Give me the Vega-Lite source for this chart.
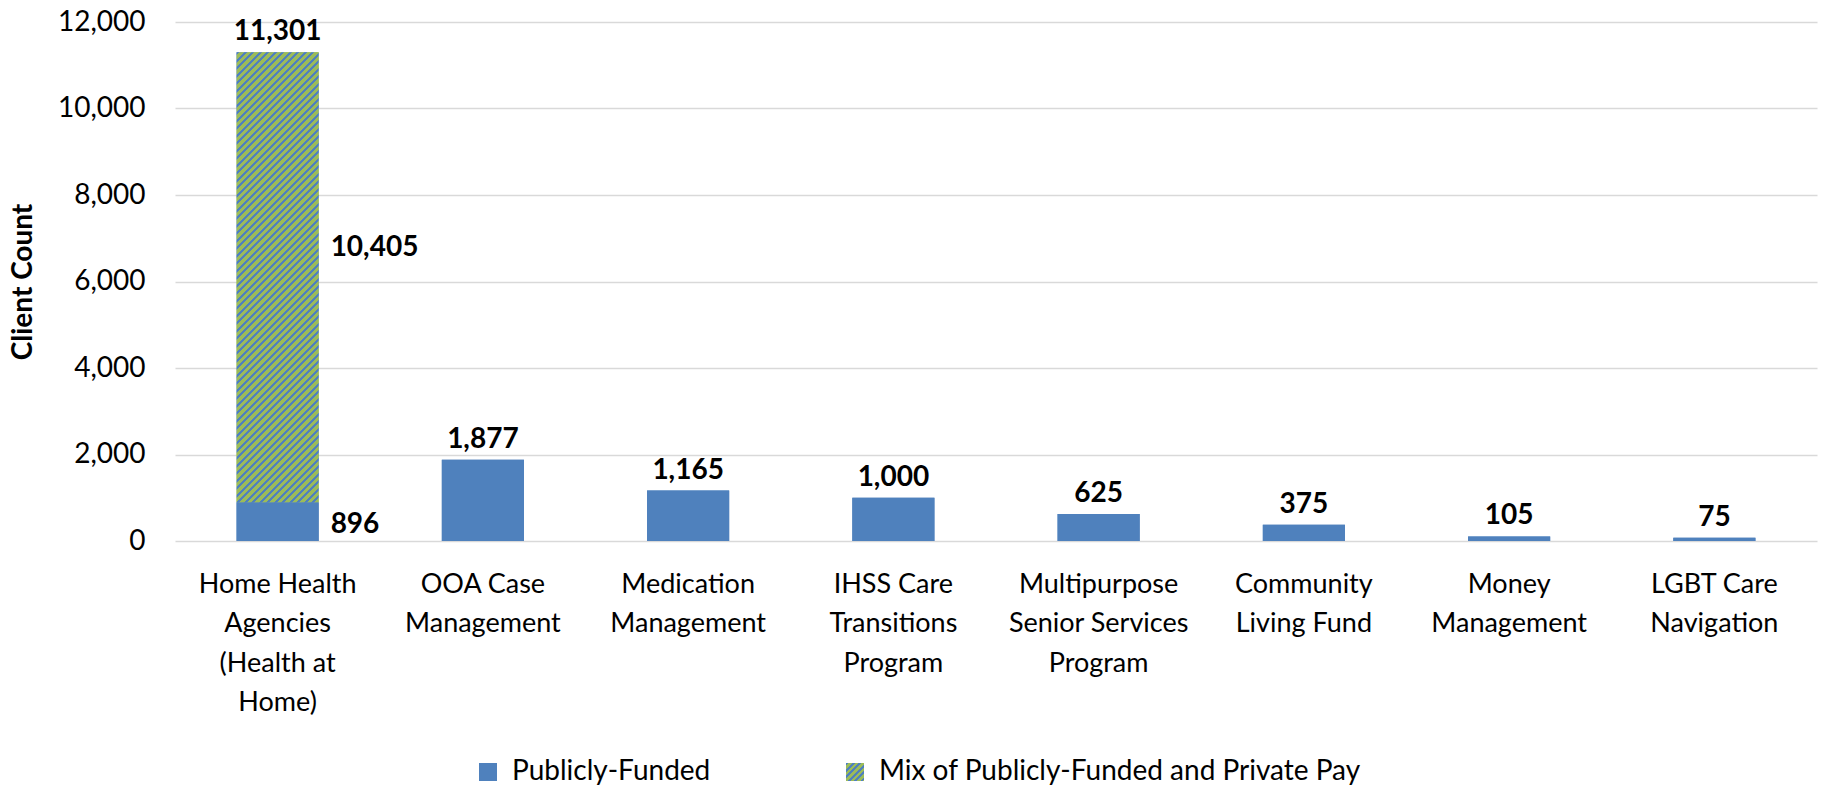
{
  "$schema": "https://vega.github.io/schema/vega-lite/v6.json",
  "width": 1642,
  "height": 519,
  "autosize": {"type": "none"},
  "padding": {"left": 175, "top": 22, "right": 6, "bottom": 247},
  "background": "white",
  "config": {
    "view": {"stroke": null},
    "font": "Lato",
    "text": {"font": "Lato", "color": "#000000"}
  },
  "data": {
    "values": [
      {"category": "Home Health\nAgencies\n(Health at\nHome)", "series": "Publicly-Funded", "count": 896},
      {"category": "Home Health\nAgencies\n(Health at\nHome)", "series": "Mix of Publicly-Funded and Private Pay", "count": 10405},
      {"category": "OOA Case\nManagement", "series": "Publicly-Funded", "count": 1877},
      {"category": "Medication\nManagement", "series": "Publicly-Funded", "count": 1165},
      {"category": "IHSS Care\nTransitions\nProgram", "series": "Publicly-Funded", "count": 1000},
      {"category": "Multipurpose\nSenior Services\nProgram", "series": "Publicly-Funded", "count": 625},
      {"category": "Community\nLiving Fund", "series": "Publicly-Funded", "count": 375},
      {"category": "Money\nManagement", "series": "Publicly-Funded", "count": 105},
      {"category": "LGBT Care\nNavigation", "series": "Publicly-Funded", "count": 75}
    ]
  },
  "encoding": {
    "x": {
      "field": "category",
      "type": "nominal",
      "sort": null,
      "scale": {"paddingInner": 0.6, "paddingOuter": 0.3},
      "axis": {
        "title": null,
        "domain": false,
        "ticks": false,
        "labelAngle": 0,
        "labelFont": "Lato",
        "labelFontSize": 27,
        "labelColor": "#000000",
        "labelPadding": 30,
        "labelBaseline": "top",
        "labelLineHeight": 39.5,
        "labelLimit": 400,
        "labelOverlap": false,
        "labelExpr": "split(datum.label, '\\n')"
      }
    }
  },
  "layer": [
    {
      "mark": {"type": "bar"},
      "encoding": {
        "y": {
          "field": "count",
          "type": "quantitative",
          "stack": "zero",
          "title": "Client Count",
          "scale": {"domain": [0, 12000], "nice": false},
          "axis": {
            "values": [0, 2000, 4000, 6000, 8000, 10000, 12000],
            "labelExpr": "format(datum.value, ',')",
            "grid": true,
            "gridColor": "#D9D9D9",
            "gridWidth": 1.3,
            "domain": false,
            "ticks": false,
            "labelFont": "Lato",
            "labelFontSize": 28,
            "labelColor": "#000000",
            "labelPadding": 30,
            "titleFont": "Lato",
            "titleFontSize": 28,
            "titleFontWeight": "bold",
            "titleColor": "#000000",
            "titleX": -152,
            "titleBaseline": "middle"
          }
        },
        "fill": {
          "field": "series",
          "type": "nominal",
          "scale": {
            "domain": ["Publicly-Funded", "Mix of Publicly-Funded and Private Pay"],
            "range": [
              "#4F81BD",
              {"expr": "{gradient: 'linear', x1: 0, y1: 0, x2: 1, y2: 1, stops: [{offset: 0, color: '#4F81BD'}, {offset: 0.072, color: '#4F81BD'}, {offset: 0.072, color: '#9BBB59'}, {offset: 0.18, color: '#9BBB59'}, {offset: 0.18, color: '#4F81BD'}, {offset: 0.252, color: '#4F81BD'}, {offset: 0.252, color: '#9BBB59'}, {offset: 0.36, color: '#9BBB59'}, {offset: 0.36, color: '#4F81BD'}, {offset: 0.432, color: '#4F81BD'}, {offset: 0.432, color: '#9BBB59'}, {offset: 0.54, color: '#9BBB59'}, {offset: 0.54, color: '#4F81BD'}, {offset: 0.612, color: '#4F81BD'}, {offset: 0.612, color: '#9BBB59'}, {offset: 0.72, color: '#9BBB59'}, {offset: 0.72, color: '#4F81BD'}, {offset: 0.792, color: '#4F81BD'}, {offset: 0.792, color: '#9BBB59'}, {offset: 0.9, color: '#9BBB59'}, {offset: 0.9, color: '#4F81BD'}, {offset: 0.972, color: '#4F81BD'}, {offset: 0.972, color: '#9BBB59'}, {offset: 1, color: '#9BBB59'}]}"}
            ]
          },
          "legend": {
            "orient": "none",
            "legendX": 299,
            "legendY": 736,
            "direction": "horizontal",
            "title": null,
            "symbolType": "square",
            "symbolSize": 324,
            "symbolStrokeWidth": 0,
            "labelFont": "Lato",
            "labelFontSize": 28,
            "labelColor": "#000000",
            "labelOffset": 10,
            "labelLimit": 800,
            "columnPadding": 130,
            "padding": 0
          }
        },
        "order": {"field": "series", "sort": "descending"}
      }
    },
    {
      "mark": {"type": "bar"},
      "encoding": {
        "y": {"field": "count", "type": "quantitative", "stack": "zero", "title": "Client Count"},
        "detail": {"field": "series"},
        "order": {"field": "series", "sort": "descending"},
        "fill": {
          "condition": {
            "test": "datum.series == 'Mix of Publicly-Funded and Private Pay'",
            "value": {"gradient": "linear", "x1": 0, "y1": 0, "x2": 0.2354, "y2": 1.29, "stops": [
{"offset":0,"color":"#4F81BD"},{"offset":0.005,"color":"#4F81BD"},{"offset":0.005,"color":"#9BBB59"},{"offset":0.0125,"color":"#9BBB59"},
{"offset":0.0125,"color":"#4F81BD"},{"offset":0.0175,"color":"#4F81BD"},{"offset":0.0175,"color":"#9BBB59"},{"offset":0.025,"color":"#9BBB59"},
{"offset":0.025,"color":"#4F81BD"},{"offset":0.03,"color":"#4F81BD"},{"offset":0.03,"color":"#9BBB59"},{"offset":0.0375,"color":"#9BBB59"},
{"offset":0.0375,"color":"#4F81BD"},{"offset":0.0425,"color":"#4F81BD"},{"offset":0.0425,"color":"#9BBB59"},{"offset":0.05,"color":"#9BBB59"},
{"offset":0.05,"color":"#4F81BD"},{"offset":0.055,"color":"#4F81BD"},{"offset":0.055,"color":"#9BBB59"},{"offset":0.0625,"color":"#9BBB59"},
{"offset":0.0625,"color":"#4F81BD"},{"offset":0.0675,"color":"#4F81BD"},{"offset":0.0675,"color":"#9BBB59"},{"offset":0.075,"color":"#9BBB59"},
{"offset":0.075,"color":"#4F81BD"},{"offset":0.08,"color":"#4F81BD"},{"offset":0.08,"color":"#9BBB59"},{"offset":0.0875,"color":"#9BBB59"},
{"offset":0.0875,"color":"#4F81BD"},{"offset":0.0925,"color":"#4F81BD"},{"offset":0.0925,"color":"#9BBB59"},{"offset":0.1,"color":"#9BBB59"},
{"offset":0.1,"color":"#4F81BD"},{"offset":0.105,"color":"#4F81BD"},{"offset":0.105,"color":"#9BBB59"},{"offset":0.1125,"color":"#9BBB59"},
{"offset":0.1125,"color":"#4F81BD"},{"offset":0.1175,"color":"#4F81BD"},{"offset":0.1175,"color":"#9BBB59"},{"offset":0.125,"color":"#9BBB59"},
{"offset":0.125,"color":"#4F81BD"},{"offset":0.13,"color":"#4F81BD"},{"offset":0.13,"color":"#9BBB59"},{"offset":0.1375,"color":"#9BBB59"},
{"offset":0.1375,"color":"#4F81BD"},{"offset":0.1425,"color":"#4F81BD"},{"offset":0.1425,"color":"#9BBB59"},{"offset":0.15,"color":"#9BBB59"},
{"offset":0.15,"color":"#4F81BD"},{"offset":0.155,"color":"#4F81BD"},{"offset":0.155,"color":"#9BBB59"},{"offset":0.1625,"color":"#9BBB59"},
{"offset":0.1625,"color":"#4F81BD"},{"offset":0.1675,"color":"#4F81BD"},{"offset":0.1675,"color":"#9BBB59"},{"offset":0.175,"color":"#9BBB59"},
{"offset":0.175,"color":"#4F81BD"},{"offset":0.18,"color":"#4F81BD"},{"offset":0.18,"color":"#9BBB59"},{"offset":0.1875,"color":"#9BBB59"},
{"offset":0.1875,"color":"#4F81BD"},{"offset":0.1925,"color":"#4F81BD"},{"offset":0.1925,"color":"#9BBB59"},{"offset":0.2,"color":"#9BBB59"},
{"offset":0.2,"color":"#4F81BD"},{"offset":0.205,"color":"#4F81BD"},{"offset":0.205,"color":"#9BBB59"},{"offset":0.2125,"color":"#9BBB59"},
{"offset":0.2125,"color":"#4F81BD"},{"offset":0.2175,"color":"#4F81BD"},{"offset":0.2175,"color":"#9BBB59"},{"offset":0.225,"color":"#9BBB59"},
{"offset":0.225,"color":"#4F81BD"},{"offset":0.23,"color":"#4F81BD"},{"offset":0.23,"color":"#9BBB59"},{"offset":0.2375,"color":"#9BBB59"},
{"offset":0.2375,"color":"#4F81BD"},{"offset":0.2425,"color":"#4F81BD"},{"offset":0.2425,"color":"#9BBB59"},{"offset":0.25,"color":"#9BBB59"},
{"offset":0.25,"color":"#4F81BD"},{"offset":0.255,"color":"#4F81BD"},{"offset":0.255,"color":"#9BBB59"},{"offset":0.2625,"color":"#9BBB59"},
{"offset":0.2625,"color":"#4F81BD"},{"offset":0.2675,"color":"#4F81BD"},{"offset":0.2675,"color":"#9BBB59"},{"offset":0.275,"color":"#9BBB59"},
{"offset":0.275,"color":"#4F81BD"},{"offset":0.28,"color":"#4F81BD"},{"offset":0.28,"color":"#9BBB59"},{"offset":0.2875,"color":"#9BBB59"},
{"offset":0.2875,"color":"#4F81BD"},{"offset":0.2925,"color":"#4F81BD"},{"offset":0.2925,"color":"#9BBB59"},{"offset":0.3,"color":"#9BBB59"},
{"offset":0.3,"color":"#4F81BD"},{"offset":0.305,"color":"#4F81BD"},{"offset":0.305,"color":"#9BBB59"},{"offset":0.3125,"color":"#9BBB59"},
{"offset":0.3125,"color":"#4F81BD"},{"offset":0.3175,"color":"#4F81BD"},{"offset":0.3175,"color":"#9BBB59"},{"offset":0.325,"color":"#9BBB59"},
{"offset":0.325,"color":"#4F81BD"},{"offset":0.33,"color":"#4F81BD"},{"offset":0.33,"color":"#9BBB59"},{"offset":0.3375,"color":"#9BBB59"},
{"offset":0.3375,"color":"#4F81BD"},{"offset":0.3425,"color":"#4F81BD"},{"offset":0.3425,"color":"#9BBB59"},{"offset":0.35,"color":"#9BBB59"},
{"offset":0.35,"color":"#4F81BD"},{"offset":0.355,"color":"#4F81BD"},{"offset":0.355,"color":"#9BBB59"},{"offset":0.3625,"color":"#9BBB59"},
{"offset":0.3625,"color":"#4F81BD"},{"offset":0.3675,"color":"#4F81BD"},{"offset":0.3675,"color":"#9BBB59"},{"offset":0.375,"color":"#9BBB59"},
{"offset":0.375,"color":"#4F81BD"},{"offset":0.38,"color":"#4F81BD"},{"offset":0.38,"color":"#9BBB59"},{"offset":0.3875,"color":"#9BBB59"},
{"offset":0.3875,"color":"#4F81BD"},{"offset":0.3925,"color":"#4F81BD"},{"offset":0.3925,"color":"#9BBB59"},{"offset":0.4,"color":"#9BBB59"},
{"offset":0.4,"color":"#4F81BD"},{"offset":0.405,"color":"#4F81BD"},{"offset":0.405,"color":"#9BBB59"},{"offset":0.4125,"color":"#9BBB59"},
{"offset":0.4125,"color":"#4F81BD"},{"offset":0.4175,"color":"#4F81BD"},{"offset":0.4175,"color":"#9BBB59"},{"offset":0.425,"color":"#9BBB59"},
{"offset":0.425,"color":"#4F81BD"},{"offset":0.43,"color":"#4F81BD"},{"offset":0.43,"color":"#9BBB59"},{"offset":0.4375,"color":"#9BBB59"},
{"offset":0.4375,"color":"#4F81BD"},{"offset":0.4425,"color":"#4F81BD"},{"offset":0.4425,"color":"#9BBB59"},{"offset":0.45,"color":"#9BBB59"},
{"offset":0.45,"color":"#4F81BD"},{"offset":0.455,"color":"#4F81BD"},{"offset":0.455,"color":"#9BBB59"},{"offset":0.4625,"color":"#9BBB59"},
{"offset":0.4625,"color":"#4F81BD"},{"offset":0.4675,"color":"#4F81BD"},{"offset":0.4675,"color":"#9BBB59"},{"offset":0.475,"color":"#9BBB59"},
{"offset":0.475,"color":"#4F81BD"},{"offset":0.48,"color":"#4F81BD"},{"offset":0.48,"color":"#9BBB59"},{"offset":0.4875,"color":"#9BBB59"},
{"offset":0.4875,"color":"#4F81BD"},{"offset":0.4925,"color":"#4F81BD"},{"offset":0.4925,"color":"#9BBB59"},{"offset":0.5,"color":"#9BBB59"},
{"offset":0.5,"color":"#4F81BD"},{"offset":0.505,"color":"#4F81BD"},{"offset":0.505,"color":"#9BBB59"},{"offset":0.5125,"color":"#9BBB59"},
{"offset":0.5125,"color":"#4F81BD"},{"offset":0.5175,"color":"#4F81BD"},{"offset":0.5175,"color":"#9BBB59"},{"offset":0.525,"color":"#9BBB59"},
{"offset":0.525,"color":"#4F81BD"},{"offset":0.53,"color":"#4F81BD"},{"offset":0.53,"color":"#9BBB59"},{"offset":0.5375,"color":"#9BBB59"},
{"offset":0.5375,"color":"#4F81BD"},{"offset":0.5425,"color":"#4F81BD"},{"offset":0.5425,"color":"#9BBB59"},{"offset":0.55,"color":"#9BBB59"},
{"offset":0.55,"color":"#4F81BD"},{"offset":0.555,"color":"#4F81BD"},{"offset":0.555,"color":"#9BBB59"},{"offset":0.5625,"color":"#9BBB59"},
{"offset":0.5625,"color":"#4F81BD"},{"offset":0.5675,"color":"#4F81BD"},{"offset":0.5675,"color":"#9BBB59"},{"offset":0.575,"color":"#9BBB59"},
{"offset":0.575,"color":"#4F81BD"},{"offset":0.58,"color":"#4F81BD"},{"offset":0.58,"color":"#9BBB59"},{"offset":0.5875,"color":"#9BBB59"},
{"offset":0.5875,"color":"#4F81BD"},{"offset":0.5925,"color":"#4F81BD"},{"offset":0.5925,"color":"#9BBB59"},{"offset":0.6,"color":"#9BBB59"},
{"offset":0.6,"color":"#4F81BD"},{"offset":0.605,"color":"#4F81BD"},{"offset":0.605,"color":"#9BBB59"},{"offset":0.6125,"color":"#9BBB59"},
{"offset":0.6125,"color":"#4F81BD"},{"offset":0.6175,"color":"#4F81BD"},{"offset":0.6175,"color":"#9BBB59"},{"offset":0.625,"color":"#9BBB59"},
{"offset":0.625,"color":"#4F81BD"},{"offset":0.63,"color":"#4F81BD"},{"offset":0.63,"color":"#9BBB59"},{"offset":0.6375,"color":"#9BBB59"},
{"offset":0.6375,"color":"#4F81BD"},{"offset":0.6425,"color":"#4F81BD"},{"offset":0.6425,"color":"#9BBB59"},{"offset":0.65,"color":"#9BBB59"},
{"offset":0.65,"color":"#4F81BD"},{"offset":0.655,"color":"#4F81BD"},{"offset":0.655,"color":"#9BBB59"},{"offset":0.6625,"color":"#9BBB59"},
{"offset":0.6625,"color":"#4F81BD"},{"offset":0.6675,"color":"#4F81BD"},{"offset":0.6675,"color":"#9BBB59"},{"offset":0.675,"color":"#9BBB59"},
{"offset":0.675,"color":"#4F81BD"},{"offset":0.68,"color":"#4F81BD"},{"offset":0.68,"color":"#9BBB59"},{"offset":0.6875,"color":"#9BBB59"},
{"offset":0.6875,"color":"#4F81BD"},{"offset":0.6925,"color":"#4F81BD"},{"offset":0.6925,"color":"#9BBB59"},{"offset":0.7,"color":"#9BBB59"},
{"offset":0.7,"color":"#4F81BD"},{"offset":0.705,"color":"#4F81BD"},{"offset":0.705,"color":"#9BBB59"},{"offset":0.7125,"color":"#9BBB59"},
{"offset":0.7125,"color":"#4F81BD"},{"offset":0.7175,"color":"#4F81BD"},{"offset":0.7175,"color":"#9BBB59"},{"offset":0.725,"color":"#9BBB59"},
{"offset":0.725,"color":"#4F81BD"},{"offset":0.73,"color":"#4F81BD"},{"offset":0.73,"color":"#9BBB59"},{"offset":0.7375,"color":"#9BBB59"},
{"offset":0.7375,"color":"#4F81BD"},{"offset":0.7425,"color":"#4F81BD"},{"offset":0.7425,"color":"#9BBB59"},{"offset":0.75,"color":"#9BBB59"},
{"offset":0.75,"color":"#4F81BD"},{"offset":0.755,"color":"#4F81BD"},{"offset":0.755,"color":"#9BBB59"},{"offset":0.7625,"color":"#9BBB59"},
{"offset":0.7625,"color":"#4F81BD"},{"offset":0.7675,"color":"#4F81BD"},{"offset":0.7675,"color":"#9BBB59"},{"offset":0.775,"color":"#9BBB59"},
{"offset":0.775,"color":"#4F81BD"},{"offset":0.78,"color":"#4F81BD"},{"offset":0.78,"color":"#9BBB59"},{"offset":0.7875,"color":"#9BBB59"},
{"offset":0.7875,"color":"#4F81BD"},{"offset":0.7925,"color":"#4F81BD"},{"offset":0.7925,"color":"#9BBB59"},{"offset":0.8,"color":"#9BBB59"},
{"offset":0.8,"color":"#4F81BD"},{"offset":0.805,"color":"#4F81BD"},{"offset":0.805,"color":"#9BBB59"},{"offset":0.8125,"color":"#9BBB59"},
{"offset":0.8125,"color":"#4F81BD"},{"offset":0.8175,"color":"#4F81BD"},{"offset":0.8175,"color":"#9BBB59"},{"offset":0.825,"color":"#9BBB59"},
{"offset":0.825,"color":"#4F81BD"},{"offset":0.83,"color":"#4F81BD"},{"offset":0.83,"color":"#9BBB59"},{"offset":0.8375,"color":"#9BBB59"},
{"offset":0.8375,"color":"#4F81BD"},{"offset":0.8425,"color":"#4F81BD"},{"offset":0.8425,"color":"#9BBB59"},{"offset":0.85,"color":"#9BBB59"},
{"offset":0.85,"color":"#4F81BD"},{"offset":0.855,"color":"#4F81BD"},{"offset":0.855,"color":"#9BBB59"},{"offset":0.8625,"color":"#9BBB59"},
{"offset":0.8625,"color":"#4F81BD"},{"offset":0.8675,"color":"#4F81BD"},{"offset":0.8675,"color":"#9BBB59"},{"offset":0.875,"color":"#9BBB59"},
{"offset":0.875,"color":"#4F81BD"},{"offset":0.88,"color":"#4F81BD"},{"offset":0.88,"color":"#9BBB59"},{"offset":0.8875,"color":"#9BBB59"},
{"offset":0.8875,"color":"#4F81BD"},{"offset":0.8925,"color":"#4F81BD"},{"offset":0.8925,"color":"#9BBB59"},{"offset":0.9,"color":"#9BBB59"},
{"offset":0.9,"color":"#4F81BD"},{"offset":0.905,"color":"#4F81BD"},{"offset":0.905,"color":"#9BBB59"},{"offset":0.9125,"color":"#9BBB59"},
{"offset":0.9125,"color":"#4F81BD"},{"offset":0.9175,"color":"#4F81BD"},{"offset":0.9175,"color":"#9BBB59"},{"offset":0.925,"color":"#9BBB59"},
{"offset":0.925,"color":"#4F81BD"},{"offset":0.93,"color":"#4F81BD"},{"offset":0.93,"color":"#9BBB59"},{"offset":0.9375,"color":"#9BBB59"},
{"offset":0.9375,"color":"#4F81BD"},{"offset":0.9425,"color":"#4F81BD"},{"offset":0.9425,"color":"#9BBB59"},{"offset":0.95,"color":"#9BBB59"},
{"offset":0.95,"color":"#4F81BD"},{"offset":0.955,"color":"#4F81BD"},{"offset":0.955,"color":"#9BBB59"},{"offset":0.9625,"color":"#9BBB59"},
{"offset":0.9625,"color":"#4F81BD"},{"offset":0.9675,"color":"#4F81BD"},{"offset":0.9675,"color":"#9BBB59"},{"offset":0.975,"color":"#9BBB59"},
{"offset":0.975,"color":"#4F81BD"},{"offset":0.98,"color":"#4F81BD"},{"offset":0.98,"color":"#9BBB59"},{"offset":0.9875,"color":"#9BBB59"},
{"offset":0.9875,"color":"#4F81BD"},{"offset":0.9925,"color":"#4F81BD"},{"offset":0.9925,"color":"#9BBB59"},{"offset":1,"color":"#9BBB59"}
            ]}
          },
          "value": "#4F81BD"
        }
      }
    },
    {
      "mark": {"type": "text", "fontSize": 28, "fontWeight": "bold", "baseline": "alphabetic", "dy": -12, "font": "Lato", "color": "#000000"},
      "encoding": {
        "y": {"aggregate": "sum", "field": "count", "type": "quantitative", "title": "Client Count"},
        "text": {"aggregate": "sum", "field": "count", "type": "quantitative", "format": ","}
      }
    },
    {
      "transform": [{"filter": "indexof(datum.category, 'Home Health') == 0"}],
      "mark": {"type": "text", "fontSize": 28, "fontWeight": "bold", "baseline": "middle", "align": "left", "dx": 53, "dy": 3, "font": "Lato", "color": "#000000"},
      "encoding": {
        "y": {"field": "count", "type": "quantitative", "stack": "zero", "bandPosition": 0.5, "title": "Client Count"},
        "detail": {"field": "series"},
        "order": {"field": "series", "sort": "descending"},
        "text": {"condition": {"test": "datum.series == 'Publicly-Funded'", "field": "count", "type": "quantitative", "format": ","}, "value": ""}
      }
    },
    {
      "transform": [{"filter": "indexof(datum.category, 'Home Health') == 0"}],
      "mark": {"type": "text", "fontSize": 28, "fontWeight": "bold", "baseline": "middle", "align": "left", "dx": 53, "dy": -29, "font": "Lato", "color": "#000000"},
      "encoding": {
        "y": {"field": "count", "type": "quantitative", "stack": "zero", "bandPosition": 0.5, "title": "Client Count"},
        "detail": {"field": "series"},
        "order": {"field": "series", "sort": "descending"},
        "text": {"condition": {"test": "datum.series == 'Mix of Publicly-Funded and Private Pay'", "field": "count", "type": "quantitative", "format": ","}, "value": ""}
      }
    }
  ]
}
